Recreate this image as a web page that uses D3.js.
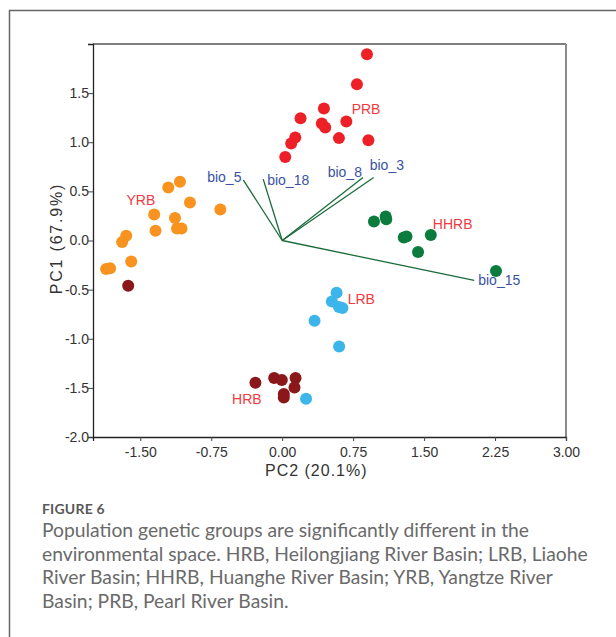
<!DOCTYPE html>
<html>
<head>
<meta charset="utf-8">
<script src="https://cdn.jsdelivr.net/npm/d3@7"></script>
<style>
  body { margin: 0; background: #fff; }
  .caption { position: absolute; left: 42px; top: 500px; width: 570px; font-family: Lato, "Open Sans", sans-serif; color: #6a6a6a; white-space: nowrap; }
  .caption .fig { font-size: 14px; font-weight: bold; color: #595959; letter-spacing: 0.2px; }
  .caption .txt { font-size: 19.3px; line-height: 23.7px; margin-top: 1px; }
  svg text { font-family: "Liberation Sans", Arial, Helvetica, sans-serif; }
</style>
</head>
<body>
<div class="chart"></div>
<div class="caption">
  <div class="fig">FIGURE 6</div>
  <div class="txt">Population genetic groups are significantly different in the<br>environmental space. HRB, Heilongjiang River Basin; LRB, Liaohe<br>River Basin; HHRB, Huanghe River Basin; YRB, Yangtze River<br>Basin; PRB, Pearl River Basin.</div>
</div>
<script>
// svg size
let svgW = 616;
let svgH = 637;

// plot area (pixels)
let margin = { top: 44, right: 50, bottom: 200, left: 93 };
let width = svgW - margin.left - margin.right;
let height = svgH - margin.top - margin.bottom;

let chartFont = "'Liberation Sans', Arial, Helvetica, sans-serif";

// ---- data (PC2 = x, PC1 = y) ----
let prbX  = [0.896, 0.790, 0.441, 0.194, 0.678, 0.419, 0.455, 0.600, 0.911, 0.138, 0.095, 0.032];
let prbY  = [1.896, 1.591, 1.343, 1.245, 1.211, 1.190, 1.150, 1.042, 1.021, 1.048, 0.987, 0.851];

let yrbX  = [-1.081, -1.204, -0.975, -0.654, -1.353, -1.133, -1.339, -1.112, -1.064, -1.649, -1.692, -1.861, -1.819, -1.596];
let yrbY  = [0.597, 0.539, 0.387, 0.315, 0.264, 0.228, 0.099, 0.122, 0.122, 0.048, -0.016, -0.291, -0.283, -0.214];

let hrbX  = [-0.283, -0.085, -0.004, 0.141, 0.130, 0.017, 0.017, -1.628];
let hrbY  = [-1.448, -1.400, -1.420, -1.400, -1.495, -1.563, -1.597, -0.461];

let lrbX  = [0.575, 0.525, 0.600, 0.636, 0.342, 0.602, 0.252];
let lrbY  = [-0.532, -0.621, -0.678, -0.688, -0.817, -1.078, -1.610];

let hhrbX = [0.970, 1.094, 1.100, 1.285, 1.314, 1.571, 1.436, 2.260];
let hhrbY = [0.193, 0.244, 0.216, 0.031, 0.041, 0.055, -0.118, -0.310];

// environmental vectors
let bioNames = ["bio_5", "bio_18", "bio_8", "bio_3", "bio_15"];
let bioX = [-0.410, -0.201, 0.854, 0.967, 2.030];
let bioY = [0.614, 0.625, 0.641, 0.641, -0.407];
// label anchor points (data units)
let bioLabX = [-0.431, -0.159, 0.843, 0.925, 2.072];
let bioLabY = [0.600, 0.567, 0.648, 0.719, -0.451];
let bioAnchor = ["end", "start", "end", "start", "start"];

// group labels
let groupNames = ["PRB", "HHRB", "YRB", "LRB", "HRB"];
let groupLabX = [0.734, 1.592, -1.646, 0.692, -0.530];
let groupLabY = [1.289, 0.119, 0.363, -0.644, -1.661];

// axis ticks
let xTicks = [-1.50, -0.75, 0.00, 0.75, 1.50, 2.25, 3.00];
let yTicks = [-2.0, -1.5, -1.0, -0.5, 0.0, 0.5, 1.0, 1.5];

// group colours
let groups = [
  { x: prbX, y: prbY, color: "#ee2027" },
  { x: yrbX, y: yrbY, color: "#f7931e" },
  { x: hhrbX, y: hhrbY, color: "#0c7b3e" },
  { x: lrbX, y: lrbY, color: "#3cb5ea" },
  { x: hrbX, y: hrbY, color: "#8a171a" }
];

let svg = d3.select(".chart")
  .append("svg")
  .attr("width", svgW)
  .attr("height", svgH)
  .style("position", "absolute")
  .style("left", 0)
  .style("top", 0);

// outer figure frame (top and left only visible)
svg.append("path")
  .attr("d", "M9.5,637 L9.5,10.5 L616,10.5")
  .attr("fill", "none")
  .attr("stroke", "#666")
  .attr("stroke-width", 1.5);

let chartGroup = svg.append("g")
  .attr("transform", `translate(${margin.left}, ${margin.top})`)
  .attr("font-family", chartFont);

let xScale = d3.scaleLinear().domain([-2.0, 3.0]).range([0, width]);
let yScale = d3.scaleLinear().domain([-2.0, 2.0]).range([height, 0]);

// top / right border of the plot box
chartGroup.append("line")
  .attr("x1", 0).attr("x2", width).attr("y1", 0).attr("y2", 0)
  .attr("stroke", "#555").attr("stroke-width", 1.5);
chartGroup.append("line")
  .attr("x1", width).attr("x2", width).attr("y1", 0).attr("y2", height)
  .attr("stroke", "#8a8a8a").attr("stroke-width", 2);

// plain hyphen for negatives (d3 uses the unicode minus)
let fmt2 = d => d3.format(".2f")(d).replace("\u2212", "-");
let fmt1 = d => d3.format(".1f")(d).replace("\u2212", "-");

// axes
let bottomAxis = d3.axisBottom(xScale).tickValues(xTicks).tickFormat(fmt2).tickSizeOuter(0).tickSize(4);
let leftAxis = d3.axisLeft(yScale).tickValues(yTicks).tickFormat(fmt1).tickSizeOuter(0).tickSize(5);

let xAxis = chartGroup.append("g")
  .attr("transform", `translate(0, ${height})`)
  .call(bottomAxis);
let yAxis = chartGroup.append("g")
  .call(leftAxis);

[xAxis, yAxis].forEach(function(ax) {
  ax.attr("font-family", chartFont).attr("font-size", 14);
  ax.select(".domain").attr("stroke", "#222").attr("stroke-width", 1.3);
  ax.selectAll(".tick line").attr("stroke", "#444");
  ax.selectAll(".tick text").attr("fill", "#333");
});
xAxis.selectAll(".tick text").attr("dy", "0.95em");
yAxis.selectAll(".tick text").attr("x", -4);

// axis titles
chartGroup.append("text")
  .attr("x", xScale(0.36))
  .attr("y", height + 39)
  .attr("text-anchor", "middle")
  .attr("fill", "#333")
  .attr("font-size", 16)
  .style("letter-spacing", "1px")
  .text("PC2 (20.1%)");

chartGroup.append("text")
  .attr("transform", "rotate(-90)")
  .attr("x", -(yScale(0.02)))
  .attr("y", -31)
  .attr("text-anchor", "middle")
  .attr("fill", "#333")
  .attr("font-size", 16)
  .style("letter-spacing", "1.8px")
  .text("PC1 (67.9%)");

// environmental vectors
let vecs = bioNames.map((n, i) => ({ name: n, x: bioX[i], y: bioY[i], lx: bioLabX[i], ly: bioLabY[i], anchor: bioAnchor[i] }));

chartGroup.selectAll(".vec")
  .data(vecs)
  .enter()
  .append("line")
  .attr("class", "vec")
  .attr("x1", xScale(0)).attr("y1", yScale(0))
  .attr("x2", d => xScale(d.x)).attr("y2", d => yScale(d.y))
  .attr("stroke", "#1b6b3a")
  .attr("stroke-width", 1.3);

chartGroup.selectAll(".vecLabel")
  .data(vecs)
  .enter()
  .append("text")
  .attr("class", "vecLabel")
  .attr("x", d => xScale(d.lx))
  .attr("y", d => yScale(d.ly))
  .attr("text-anchor", d => d.anchor)
  .attr("fill", "#3b52a3")
  .attr("font-size", 14)
  .text(d => d.name);

// points
groups.forEach(function(g) {
  let pts = g.x.map((v, i) => ({ x: v, y: g.y[i] }));
  chartGroup.append("g")
    .selectAll("circle")
    .data(pts)
    .enter()
    .append("circle")
    .attr("cx", d => xScale(d.x))
    .attr("cy", d => yScale(d.y))
    .attr("r", 6)
    .attr("fill", g.color);
});

// group labels
chartGroup.selectAll(".grpLabel")
  .data(groupNames.map((n, i) => ({ name: n, x: groupLabX[i], y: groupLabY[i] })))
  .enter()
  .append("text")
  .attr("class", "grpLabel")
  .attr("x", d => xScale(d.x))
  .attr("y", d => yScale(d.y))
  .attr("fill", "#ef3a3f")
  .attr("font-size", 14)
  .text(d => d.name);
</script>
</body>
</html>
